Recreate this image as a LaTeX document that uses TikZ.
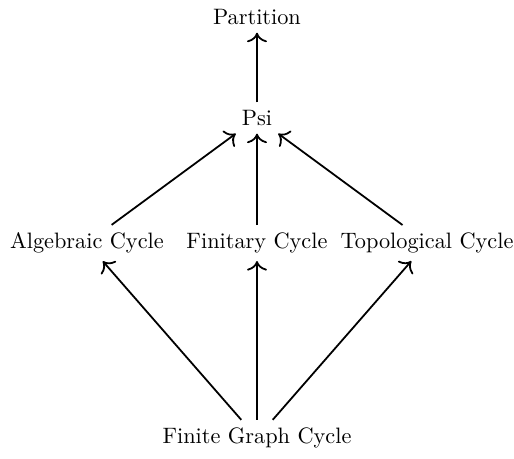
\documentclass[tikz,border=0pt]{standalone}
\usepackage{tikz}
\usetikzlibrary{arrows.meta,positioning}
\tikzset{
  cyclebox/.style={align=center, inner sep=3.33pt},
  arrow/.style={-{To[length=1.5mm]}, thick, draw=black}
}
\begin{document}
\begin{tikzpicture}[on grid]
  \useasboundingbox (-4.05,-0.32) rectangle (4.05,6.90);
  \node[cyclebox] (finite) at (0,0) {Finite Graph Cycle};
  \node[cyclebox, above=3.07cm of finite] (finitary) {Finitary Cycle};
  \node[cyclebox, left=2.68cm of finitary] (algebraic) {Algebraic Cycle};
  \node[cyclebox, right=2.68cm of finitary] (topological) {Topological Cycle};
  \node[cyclebox, above=1.97cm of finitary] (psi) {Psi};
  \node[cyclebox, above=1.59cm of psi] (partition) {Partition};

  \draw[arrow] (finite) -- (algebraic);
  \draw[arrow] (finite) -- (finitary);
  \draw[arrow] (finite) -- (topological);
  \draw[arrow] (algebraic) -- (psi);
  \draw[arrow] (finitary) -- (psi);
  \draw[arrow] (topological) -- (psi);
  \draw[arrow] (psi) -- (partition);
\end{tikzpicture}
\end{document}
